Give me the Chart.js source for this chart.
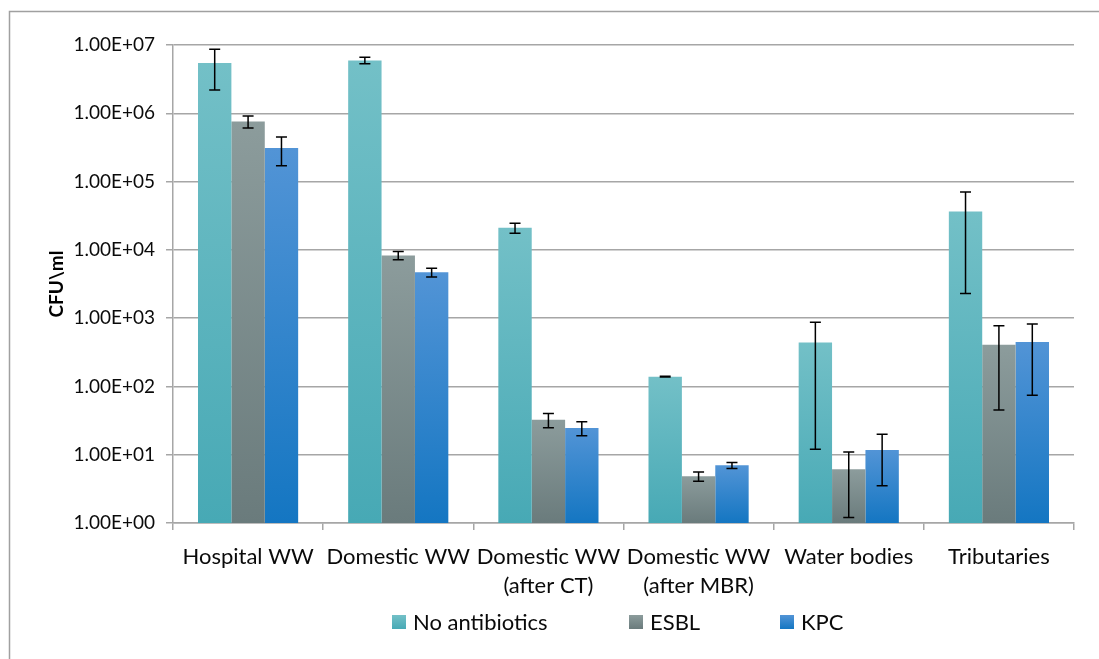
<!DOCTYPE html>
<html>
<head>
<meta charset="utf-8">
<script src="https://cdn.jsdelivr.net/npm/chart.js@4.4.0/dist/chart.umd.min.js"></script>
<style>
  html, body { margin: 0; padding: 0; background: #fff; }
  #wrap { width: 1099px; height: 659px; }
</style>
</head>
<body>
<div id="wrap"><canvas id="myChart"></canvas></div>
<script>
// categories (multi-line labels)
const categories = [
    'Hospital WW',
    'Domestic WW',
    ['Domestic WW', '(after CT)'],
    ['Domestic WW', '(after MBR)'],
    'Water bodies',
    'Tributaries',
];

// CFU/ml means and error (+/-) per series
const noAntibiotics = [5450000, 5950000, 21000, 139, 440, 36300];
const noAntibioticsErr = [3250000, 650000, 3500, 2, 428, 34000];

const esbl = [760000, 8300, 32.4, 4.85, 6.1, 408];
const esblErr = [150000, 1150, 7.6, 0.75, 4.9, 363];

const kpc = [310000, 4700, 24.6, 7.0, 11.7, 449];
const kpcErr = [140000, 700, 5.7, 0.7, 8.2, 375];

const yTicks = [1, 10, 100, 1000, 10000, 100000, 1000000, 10000000];
const yTickLabels = ['1.00E+00', '1.00E+01', '1.00E+02', '1.00E+03', '1.00E+04', '1.00E+05', '1.00E+06', '1.00E+07'];

const errors = [noAntibioticsErr, esblErr, kpcErr];
const FONT = 'Lato, "Open Sans", sans-serif';

// vertical gradient for each bar, light at the top
function barFill(top, bottom) {
    return function(ctx) {
        const chart = ctx.chart;
        const area = chart.chartArea;
        const yScale = chart.scales.y;
        if (!area || !yScale || ctx.type !== 'data') return bottom;
        const yTop = yScale.getPixelForValue(ctx.raw);
        if (!isFinite(yTop)) return bottom;
        const g = chart.ctx.createLinearGradient(0, yTop, 0, area.bottom);
        g.addColorStop(0, top);
        g.addColorStop(1, bottom);
        return g;
    };
}

const colors = [
    ['#73c0c7', '#47a9b5'],
    ['#8c9c9c', '#6a7b7c'],
    ['#5294d6', '#1476c2'],
];

const errorBars = {
    id: 'errorBars',
    afterDatasetsDraw(chart) {
        const ctx = chart.ctx;
        const y = chart.scales.y;
        ctx.save();
        ctx.strokeStyle = '#000';
        ctx.lineWidth = 1.5;
        chart.data.datasets.forEach((ds, di) => {
            const meta = chart.getDatasetMeta(di);
            meta.data.forEach((bar, i) => {
                const v = ds.data[i];
                const e = errors[di][i];
                const yHi = y.getPixelForValue(v + e);
                const yLo = Math.min(y.getPixelForValue(v - e), chart.chartArea.bottom);
                const cap = 5.5;
                ctx.beginPath();
                ctx.moveTo(bar.x, yHi);
                ctx.lineTo(bar.x, yLo);
                ctx.moveTo(bar.x - cap, yHi);
                ctx.lineTo(bar.x + cap, yHi);
                ctx.moveTo(bar.x - cap, yLo);
                ctx.lineTo(bar.x + cap, yLo);
                ctx.stroke();
            });
        });
        ctx.restore();
    }
};

// outer frame + legend at the bottom
const frameAndLegend = {
    id: 'frameAndLegend',
    beforeDraw(chart) {
        const ctx = chart.ctx;
        ctx.save();
        ctx.fillStyle = '#fff';
        ctx.fillRect(0, 0, chart.width, chart.height);
        ctx.strokeStyle = '#a0a0a0';
        ctx.lineWidth = 1.5;
        ctx.beginPath();
        ctx.moveTo(9.5, chart.height);
        ctx.lineTo(9.5, 11.5);
        ctx.lineTo(chart.width, 11.5);
        ctx.stroke();
        ctx.restore();
    },
    afterDraw(chart) {
        const ctx = chart.ctx;
        const xs = [392, 629, 780];
        const yMid = 622;
        ctx.save();
        ctx.font = '22px ' + FONT;
        ctx.textBaseline = 'middle';
        chart.data.datasets.forEach((ds, i) => {
            const g = ctx.createLinearGradient(0, yMid - 7, 0, yMid + 7);
            g.addColorStop(0, colors[i][0]);
            g.addColorStop(1, colors[i][1]);
            ctx.fillStyle = g;
            ctx.fillRect(xs[i], yMid - 7, 14, 14);
            ctx.fillStyle = '#0a0a0a';
            ctx.fillText(ds.label, xs[i] + 21, yMid + 1);
        });
        ctx.restore();
    }
};

const data = {
    labels: categories,
    datasets: [{
        label: 'No antibiotics',
        data: noAntibiotics,
        backgroundColor: barFill(colors[0][0], colors[0][1]),
    }, {
        label: 'ESBL',
        data: esbl,
        backgroundColor: barFill(colors[1][0], colors[1][1]),
    }, {
        label: 'KPC',
        data: kpc,
        backgroundColor: barFill(colors[2][0], colors[2][1]),
    }]
};

const config = {
    type: 'bar',
    data: data,
    options: {
        responsive: true,
        maintainAspectRatio: false,
        animation: false,
        categoryPercentage: 0.667,
        barPercentage: 1,
        layout: { padding: { top: 45, right: 25, bottom: 0, left: 0 } },
        plugins: {
            legend: { display: false },
            tooltip: { enabled: false },
        },
        scales: {
            x: {
                offset: true,
                grid: {
                    offset: true,
                    drawOnChartArea: false,
                    drawTicks: true,
                    tickLength: 7,
                    color: '#a6a6a6',
                    lineWidth: 1.5,
                },
                border: { color: '#a6a6a6', width: 1.5 },
                ticks: {
                    color: '#0a0a0a',
                    padding: 13,
                    maxRotation: 0,
                    autoSkip: false,
                    font: { family: FONT, size: 22, lineHeight: 1.3 },
                },
                afterFit(scale) { scale.height = 136; },
            },
            y: {
                type: 'logarithmic',
                min: 1,
                max: 10000000,
                afterBuildTicks(scale) {
                    scale.ticks = yTicks.map(v => ({ value: v }));
                },
                grid: {
                    color: '#a6a6a6',
                    lineWidth: 1.5,
                    tickLength: 7,
                },
                border: { color: '#a6a6a6', width: 1.5 },
                ticks: {
                    color: '#0a0a0a',
                    padding: 11,
                    font: { family: FONT, size: 19 },
                    callback: (value) => yTickLabels[yTicks.indexOf(value)],
                },
                title: {
                    display: true,
                    text: 'CFU\\ml',
                    color: '#000',
                    font: { family: FONT, size: 19, weight: 'bold' },
                    padding: { top: 45, bottom: 0 },
                },
                afterFit(scale) { scale.width = 173; },
            }
        }
    },
    plugins: [frameAndLegend, errorBars]
};

const myChart = new Chart(
    document.getElementById('myChart'),
    config
);
</script>
</body>
</html>
